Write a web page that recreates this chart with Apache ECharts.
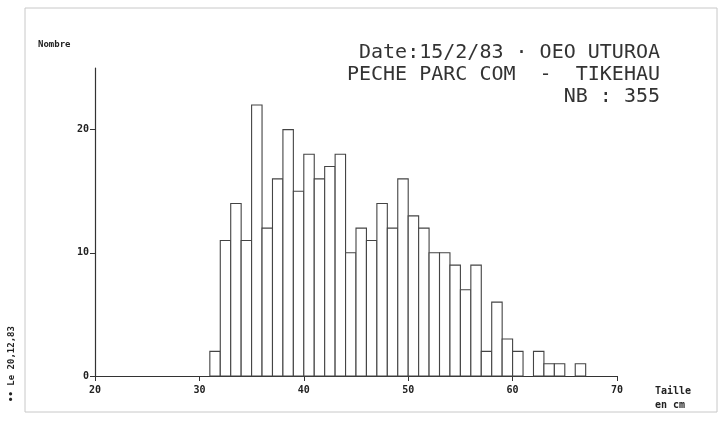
<!DOCTYPE html>
<html>
<head>
<meta charset="utf-8">
<script src="https://cdn.jsdelivr.net/npm/echarts@6/dist/echarts.min.js"></script>
<style>
  html, body { margin: 0; padding: 0; background: #fff; }
  #main { width: 722px; height: 421px; }
</style>
</head>
<body>
<div id="main"></div>
<script>
// classes de taille (cm), borne gauche de chaque barre
var binStart = [31, 32, 33, 34, 35, 36, 37, 38, 39, 40, 41, 42, 43, 44, 45, 46, 47, 48,
                49, 50, 51, 52, 53, 54, 55, 56, 57, 58, 59, 60, 61, 62, 63, 64, 65, 66];
// effectifs (Nombre) -- total 355
var counts = [2, 11, 14, 11, 22, 12, 16, 20, 15, 18, 16, 17, 18, 10, 12, 11, 14, 12,
              16, 13, 12, 10, 10, 9, 7, 9, 2, 6, 3, 2, 0, 2, 1, 1, 0, 1];
var binWidth = 1;
var yTicks = [0, 10, 20];
var titleLines = ['Date:15/2/83 · OEO UTUROA', 'PECHE PARC COM  -  TIKEHAU', 'NB : 355'];

var data = [];
for (var i = 0; i < binStart.length; i++) {
    if (counts[i] > 0) data.push([binStart[i], counts[i]]);
}

var chart = echarts.init(document.getElementById('main'));
var mono = "'DejaVu Sans Mono', monospace";

chart.setOption({
    backgroundColor: '#fff',
    animation: false,
    grid: { left: 95, right: 105, top: 68, bottom: 45 },
    xAxis: {
        type: 'value',
        min: 20,
        max: 70,
        interval: 10,
        splitLine: { show: false },
        axisLine: { show: true, lineStyle: { color: '#333', width: 1.2 } },
        axisTick: { show: true, length: 5, lineStyle: { color: '#333' } },
        axisLabel: { fontFamily: mono, fontWeight: 'bold', fontSize: 10, color: '#222', margin: 9 }
    },
    yAxis: {
        type: 'value',
        min: 0,
        max: 25,
        interval: 10,
        splitLine: { show: false },
        axisLine: { show: true, lineStyle: { color: '#333', width: 1.2 } },
        axisTick: { show: true, length: 5, customValues: yTicks, lineStyle: { color: '#333' } },
        axisLabel: { customValues: yTicks, fontFamily: mono, fontWeight: 'bold',
                     fontSize: 10, color: '#222', margin: 6 }
    },
    series: [{
        type: 'custom',
        data: data,
        renderItem: function (params, api) {
            var x0 = api.value(0), h = api.value(1);
            var p0 = api.coord([x0, h]);
            var p1 = api.coord([x0 + binWidth, 0]);
            return {
                type: 'rect',
                shape: { x: p0[0], y: p0[1], width: p1[0] - p0[0], height: p1[1] - p0[1] },
                style: { fill: '#fff', stroke: '#444', lineWidth: 1.1 }
            };
        }
    }],
    graphic: [
        { type: 'rect', silent: true, z: -1,
          shape: { x: 25, y: 8, width: 692, height: 404 },
          style: { fill: 'none', stroke: '#c8c8c8', lineWidth: 1 } },
        { type: 'text', right: 62, top: 43,
          style: { text: titleLines[0], font: '20px ' + mono, fill: '#333', textAlign: 'right' } },
        { type: 'text', right: 62, top: 65,
          style: { text: titleLines[1], font: '20px ' + mono, fill: '#333', textAlign: 'right' } },
        { type: 'text', right: 62, top: 87,
          style: { text: titleLines[2], font: '20px ' + mono, fill: '#333', textAlign: 'right' } },
        { type: 'text', left: 38, top: 40,
          style: { text: 'Nombre', font: 'bold 9px ' + mono, fill: '#222' } },
        { type: 'text', left: 655, top: 386,
          style: { text: 'Taille', font: 'bold 10px ' + mono, fill: '#222' } },
        { type: 'text', left: 655, top: 400,
          style: { text: 'en cm', font: 'bold 10px ' + mono, fill: '#222' } },
        { type: 'text', x: 12, y: 364, rotation: Math.PI / 2,
          style: { text: '•• Le 20,12,83', font: 'bold 9px ' + mono, fill: '#222',
                   textAlign: 'center', textVerticalAlign: 'middle' } }
    ]
});
</script>
</body>
</html>
